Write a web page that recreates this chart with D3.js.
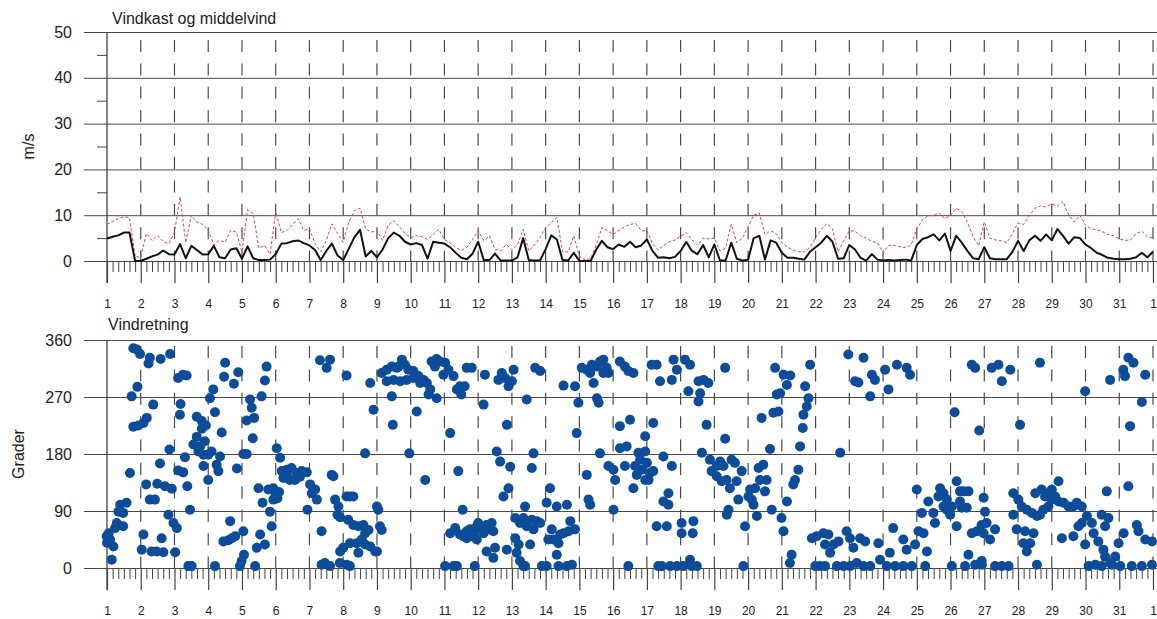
<!DOCTYPE html>
<html><head><meta charset="utf-8">
<script src="https://cdn.jsdelivr.net/npm/d3@7"></script>
<style>body{margin:0;background:#fff;} svg{display:block;font-family:"Liberation Sans",Arial,sans-serif;}</style>
</head><body><svg id="c" width="1157" height="619"></svg>
<script>
// ---------- data ----------
const dayTicks = d3.range(1, 33);                 // day 1 .. day 32 (= 1st of next month)
const dayLabels = d3.range(1, 32).concat([1]);
const speedTicks = [0, 10, 20, 30, 40, 50];
const speedMinor = [5, 15, 25, 35, 45];
const dirTicks = [0, 90, 180, 270, 360];
const stepHours = 4;                              // samples every 4 hours from day 1 00:00
const meanWind = [
4.9,5.3,5.6,6.2,6.2,0, 0,0.5,1.0,1.4,2.3,1.5, 1.4,3.7,0.6,3.3,2.4,1.4, 1.5,3.3,0.8,0.6,2.5,2.8,
0.5,3.2,0.6,0.2,0.2,0.3, 1.5,3.8,3.9,4.3,4.5,3.9, 3.4,2.4,0.2,2.2,3.8,1.2, 0.2,2.7,5.2,6.8,1.0,2.2,
0.8,2.5,5.0,6.2,5.5,4.2, 3.6,3.9,3.5,0.5,4.2,4.0, 3.8,3.0,1.8,0.7,0.4,1.6, 4.2,0.2,0.2,1.6,0.1,0.1,
0.1,0.8,5.0,0.2,0.1,0.1, 2.6,5.6,4.7,0.2,0.1,1.8, 0,0,0,2.5,4.4,3.0, 2.6,3.6,3.1,4.2,3.0,3.4,
4.7,2.2,0.7,0.8,0.6,0.9, 2.2,4.2,2.2,1.5,3.5,0.8, 3.6,0.1,0.1,4.0,0.5,0.1, 0.3,5.0,5.5,0.3,4.5,4.0,
1.8,0.7,0.7,0.5,0.3,2.0, 3.0,4.0,5.5,4.2,0.5,0.6, 3.5,2.5,0.7,0.1,1.5,0.3, 0.1,0.2,0.1,0.2,0.3,0.1,
3.5,4.8,5.2,5.8,4.5,6.0, 2.2,5.5,4.0,2.2,0.6,0.4, 3.0,0.6,0.4,0.4,0.4,2.0, 4.4,2.2,4.5,5.5,4.4,5.8,
4.5,7.0,5.5,3.8,5.2,5.0, 3.6,2.8,1.8,1.3,0.7,0.5, 0.4,0.4,0.5,0.8,1.8,0.8, 2.0];
const gustWind = [
8.0,8.6,9.3,9.6,9.5,1.0, 0.8,6.0,4.5,5.6,4.2,3.8, 6.3,14.0,4.0,10.0,8.5,8.0, 6.8,3.5,4.5,4.1,6.7,6.3,
2.0,11.2,10.3,2.8,3.4,1.5, 10.8,6.2,6.7,8.0,9.2,6.7, 7.0,3.8,2.0,4.5,8.1,6.0, 4.1,8.5,11.0,11.5,7.0,6.3,
6.7,4.5,7.8,8.8,7.5,6.0, 5.1,5.5,5.3,4.7,5.8,6.9, 4.7,4.0,3.0,2.3,3.0,4.7, 6.6,4.4,5.5,2.6,2.2,3.6,
2.4,3.5,6.9,2.2,3.5,5.1, 7.3,8.4,9.5,2.0,2.0,5.5, 1.0,0.3,0.5,3.5,7.3,6.6, 5.8,6.6,7.5,8.0,8.2,6.6,
6.6,3.8,2.4,3.4,4.2,4.6, 5.5,6.2,4.6,3.5,5.0,4.8, 5.0,2.2,2.8,8.0,4.0,5.0, 7.5,10.0,10.5,5.8,6.6,6.0,
4.0,3.0,2.4,2.0,2.0,3.0, 5.1,6.9,8.2,7.0,2.0,4.4, 6.6,6.5,5.5,5.0,4.3,4.0, 1.8,3.4,3.4,3.1,2.9,3.5,
7.0,9.0,9.9,9.9,10.5,9.2, 10.0,11.5,10.8,8.5,5.3,3.3, 8.5,5.0,4.6,4.4,4.0,6.0, 8.3,8.0,9.9,11.5,12.0,11.8,
12.5,12.0,13.0,10.0,8.5,10.0, 7.8,7.0,6.8,6.4,5.8,5.5, 4.8,4.5,4.6,6.0,6.5,5.3, 5.0];
const dirDay = [
0.99,1.0,1.05,1.09,1.19,1.14,1.24,1.29,1.34,1.39,1.48,1.48,1.58,1.68,1.73,1.78,1.78,1.88,1.9,1.93,1.98,2.03,2.08,2.08,2.16,2.18,2.23,2.27,2.27,2.32,2.37,2.42,2.47,2.49,2.57,2.59,2.62,2.67,2.72,2.82,2.85,2.87,2.92,2.97,3.02,3.07,3.11,3.11,3.18,3.16,3.25,3.26,3.31,3.36,3.38,3.41,3.46,3.51,3.56,3.66,3.66,3.71,3.76,3.81,3.81,3.86,3.86,3.9,3.93,4.0,4.0,4.05,4.1,4.15,4.2,4.2,4.25,4.3,4.35,4.4,4.45,4.47,4.5,4.6,4.65,4.7,4.76,4.8,4.85,4.89,4.94,4.99,5.04,5.04,5.06,5.14,5.14,5.24,5.29,5.32,5.36,5.39,5.44,5.49,5.54,5.58,5.61,5.68,5.68,5.73,5.78,5.83,5.88,5.93,5.93,6.0,
6.03,6.13,6.18,6.23,6.33,6.33,6.42,6.47,6.57,6.62,6.72,6.77,6.92,6.94,7.02,7.07,7.17,7.22,7.31,7.36,7.36,7.46,7.51,7.61,7.61,7.66,7.71,7.76,7.83,7.86,7.9,7.91,7.91,8.0,8.1,8.1,8.1,8.15,8.2,8.2,8.2,8.3,8.3,8.4,8.45,8.45,6.1,6.05,
8.8,8.9,8.65,9.0,9.04,8.6,8.75,8.65,9.09,9.14,8.55,8.65,8.8,8.95,9.0,
9.14,9.29,9.44,9.59,9.74,9.83,9.93,10.08,10.23,10.38,10.48,10.58,10.53,9.29,9.49,9.69,9.88,10.08,10.28,10.62,10.77,10.87,11.02,11.12,10.97,11.27,10.72,9.64,
10.77,9.44,9.47,10.18,9.96,10.43,11.17,11.41,11.46,11.6,11.37,11.5,11.66,11.81,12.2,12.16,11.54,
11.17,11.32,11.46,11.56,11.66,11.76,11.86,11.96,12.0,12.06,12.16,12.25,12.35,12.4,12.45,11.66,11.81,11.96,
12.25,12.5,12.45,11.02,11.27,11.37,11.9,
12.55,12.65,12.95,12.7,12.8,12.9,13.0,13.05,12.6,12.85,12.9,12.75,
13.1,13.24,13.34,13.44,13.59,13.74,13.84,13.64,13.39,13.1,13.2,12.85,13.54,13.14,13.24,13.34,13.39,13.44,13.69,13.84,13.64,13.59,
14.13,14.03,14.33,14.63,14.18,14.08,14.23,14.38,14.53,14.68,14.73,14.87,14.43,14.33,13.89,14.03,14.38,14.63,14.78,
14.53,14.87,14.97,14.92,15.22,15.27,15.32,
15.07,15.22,15.37,15.52,15.61,15.71,15.81,15.86,15.32,15.42,15.71,15.57,15.52,15.61,15.86,16.01,16.06,16.01,
16.2,16.35,16.45,16.6,16.2,16.5,16.95,17.19,16.2,16.4,16.35,16.65,16.75,16.95,16.8,17.0,17.09,16.85,16.7,17.05,16.95,17.19,16.6,17.49,17.74,17.64,17.49,17.64,17.14,17.29,17.39,17.74,17.79,18.13,18.28,17.89,18.23,18.53,18.68,18.82,18.58,18.53,18.77,19.32,19.32,17.29,17.59,18.03,18.38,18.03,18.36,16.45,17.34,17.44,17.69,17.89,18.08,18.28,18.33,18.48,
18.63,18.87,19.17,19.07,19.27,18.92,19.07,19.22,19.36,19.51,19.61,19.81,19.66,19.46,19.71,20.01,19.42,19.37,19.91,
20.06,20.21,20.11,20.16,20.26,20.5,20.55,20.35,20.31,20.45,20.7,20.99,21.05,21.15,20.4,20.75,20.9,20.65,20.85,20.95,20.8,21.05,21.25,21.15,21.69,21.79,21.74,21.64,21.62,21.54,21.49,21.39,21.34,21.84,21.29,21.24,19.86,
21.89,22.03,22.23,22.38,22.53,22.28,22.43,22.68,22.92,23.02,23.12,23.32,23.47,23.86,
21.99,22.13,22.28,22.63,22.83,23.02,23.22,23.42,23.62,23.91,24.11,
22.73,22.97,23.42,23.17,23.27,23.67,23.76,23.62,24.06,24.16,
24.41,24.7,24.8,26.63,26.73,27.22,27.42,27.77,27.52,28.65,29.99,26.12,26.85,28.06,30.73,31.12,31.27,31.42,31.17,31.77,31.67,31.32,30.63,31.27,
25.0,25.05,25.15,25.2,25.34,25.49,25.54,25.69,25.64,25.79,25.89,25.79,25.89,26.04,25.99,26.18,26.28,26.38,26.53,26.28,26.33,26.48,26.18,26.63,26.78,26.98,27.02,26.92,27.07,27.32,27.17,26.98,26.53,26.92,
24.3,24.6,24.7,24.95,24.2,25.3,
24.36,24.6,24.85,25.25,26.04,26.43,26.73,26.93,27.32,27.52,27.72,28.56,30.09,30.29,30.48,30.78,31.03,31.37,31.67,31.97,
27.86,28.01,28.11,28.26,28.41,28.56,27.86,27.96,28.21,28.46,28.16,28.26,28.36,28.51,28.7,28.8,28.9,29.0,29.1,29.2,29.0,28.9,28.75,28.65,29.2,29.35,29.5,29.64,29.74,29.89,29.3,29.64,29.79,29.89,30.04,29.99,30.19,30.24,30.38,30.48,30.58,30.68,30.53,30.58,30.88,30.98,31.13,31.52,31.57,31.77,31.97,30.73];
const dirDeg = [
50,40,55,45,34,13,63,71,89,100,87,66,103,150,271,347,223,345,286,225,338,29,229,53,132,237,323,332,108,26,258,108,26,133,165,330,47,25,129,84,187,338,125,71,25,63,300,154,259,242,305,151,175,304,129,3,92,3,195,207,239,184,192,232,220,179,161,200,225,179,139,268,184,282,246,3,163,153,176,214,42,302,324,44,74,47,291,50,157,309,3,11,58,180,21,233,180,266,253,205,237,3,32,126,53,271,103,296,37,318,124,89,66,126,108,115,
189,174,153,142,155,147,139,158,139,150,144,153,151,92,132,118,124,108,328,58,5,8,316,329,3,147,145,108,84,97,8,80,26,32,304,113,5,76,113,39,3,113,68,39,66,24,120,110,
292,250,181,97,92,68,60,55,66,60,45,37,34,26,26,
308,313,318,316,329,321,313,311,303,297,292,282,274,295,297,295,297,300,292,326,330,326,324,313,305,303,318,318,
268,271,226,247,181,139,213,153,287,287,282,274,316,316,305,258,92,
55,63,53,50,58,61,55,66,71,63,55,68,61,71,58,47,50,45,
26,32,16,3,3,3,3,
184,168,160,308,300,287,295,313,297,226,126,113,
79,71,79,66,76,74,71,61,97,47,37,29,37,24,11,3,3,266,316,311,181,158,
126,103,97,100,61,45,45,39,55,58,74,61,53,21,3,3,3,3,5,
288,287,261,213,147,108,100,
316,313,321,318,326,329,316,308,308,292,308,261,268,181,161,155,139,92,
326,318,311,308,224,234,208,229,189,192,161,161,182,184,171,166,150,155,147,139,139,153,126,176,161,118,105,100,321,321,295,297,329,329,321,313,279,295,297,292,276,263,226,316,204,66,66,71,74,55,55,3,3,3,3,3,3,13,3,3,
182,171,168,161,161,153,145,137,139,171,166,153,137,126,108,113,92,84,66,
124,126,108,100,82,121,139,139,158,163,92,79,58,105,237,245,247,188,274,276,316,305,304,289,287,268,255,242,221,192,155,139,132,321,21,8,3,
47,50,55,53,37,37,24,42,58,47,32,47,42,39,
3,3,3,3,3,3,8,3,3,13,3,
182,337,332,295,293,305,297,271,313,282,
321,316,305,321,316,316,321,313,295,324,279,246,217,226,297,313,332,324,303,305,262,224,121,129,
124,58,87,55,105,87,71,126,113,118,108,97,92,97,84,137,121,121,121,105,95,95,66,55,58,111,89,68,71,61,45,55,21,11,
63,45,29,37,24,26,
3,3,3,3,3,3,5,5,3,3,3,5,3,5,3,5,3,3,3,5,
118,108,97,92,87,82,84,61,58,55,39,26,39,118,124,113,118,124,113,137,108,97,92,84,105,103,97,97,103,97,47,50,66,71,82,37,71,55,42,84,66,79,29,18,18,39,55,68,58,45,42,8];

// ---------- layout ----------
const W = 1157, H = 619;
const svg = d3.select("#c");
const x = d3.scaleLinear().domain([1, 32]).range([107, 1153]);
const yTop = d3.scaleLinear().domain([0, 50]).range([261, 32]);
const yBot = d3.scaleLinear().domain([0, 360]).range([568, 340]);
const gridColor = "#4a4a4a";
const tickFont = "16px";

function panel(y, ticks, minor, title, yTitle, yTitleX) {
  const [y0, y1] = y.range();
  const g = svg.append("g");
  const ax = g.append("g").attr("transform", "translate(84,0)")
    .call(d3.axisLeft(y).tickValues(ticks).tickSize(-(W - 84)).tickPadding(12));
  ax.select(".domain").remove();
  ax.selectAll(".tick line").attr("stroke", gridColor).attr("stroke-width", 1);
  ax.selectAll(".tick text").attr("font-size", tickFont).attr("fill", "#222")
    .attr("font-family", "Liberation Sans, Arial, sans-serif");
  if (minor) {
    const am = g.append("g").attr("transform", "translate(107,0)")
      .call(d3.axisLeft(y).tickValues(minor).tickSize(10).tickFormat(""));
    am.select(".domain").remove();
    am.selectAll(".tick line").attr("stroke", "#444");
  }
  const dashLen = 12, gap = 11.4, firstGap = (y === yTop) ? 8 : 6;
  g.append("g").selectAll("line").data(dayTicks.slice(1)).join("line")
    .attr("x1", d => x(d)).attr("x2", d => x(d))
    .attr("y1", y1).attr("y2", y0)
    .attr("stroke", gridColor).attr("stroke-width", 1.2)
    .attr("stroke-dasharray", dashLen + "," + gap)
    .attr("stroke-dashoffset", dashLen + gap - firstGap);
  g.append("line").attr("x1", 107).attr("x2", 107).attr("y1", y1).attr("y2", y0 + 22)
    .attr("stroke", "#333").attr("stroke-width", 1.2);
  const minorDays = d3.range(0, 744, stepHours).filter(h => h % 24 !== 0).map(h => 1 + h / 24);
  const xm = g.append("g").attr("transform", `translate(0,${y0})`)
    .call(d3.axisBottom(x).tickValues(minorDays).tickSize(11).tickFormat(""));
  xm.select(".domain").remove();
  xm.selectAll(".tick line").attr("stroke", "#444");
  const xM = g.append("g").attr("transform", `translate(0,${y0})`)
    .call(d3.axisBottom(x).tickValues(dayTicks).tickSize(22).tickFormat(""));
  xM.select(".domain").remove();
  xM.selectAll(".tick line").attr("stroke", "#444").attr("stroke-width", 1.2);
  const xl = g.append("g").attr("transform", `translate(0,${y0})`)
    .call(d3.axisBottom(x).tickValues(dayTicks).tickSize(0).tickPadding(38)
      .tickFormat((d, i) => dayLabels[i]));
  xl.select(".domain").remove();
  xl.selectAll(".tick text").attr("font-size", "12px").attr("fill", "#222")
    .attr("font-family", "Liberation Sans, Arial, sans-serif");
  g.append("text").attr("x", title.x).attr("y", title.y).text(title.text)
    .attr("font-size", "16px").attr("fill", "#222");
  g.append("text").attr("transform", `translate(${yTitleX},${(y0 + y1) / 2}) rotate(-90)`)
    .attr("text-anchor", "middle").attr("font-size", "16px").attr("fill", "#222").text(yTitle);
  return g;
}

panel(yTop, speedTicks, speedMinor, {x: 112, y: 24, text: "Vindkast og middelvind"}, "m/s", 34);
panel(yBot, dirTicks, null, {x: 108, y: 330, text: "Vindretning"}, "Grader", 24);

const tOf = i => 1 + i * stepHours / 24;
const line = d3.line().x((d, i) => x(tOf(i))).y(d => yTop(d));
svg.append("path").datum(gustWind).attr("d", line)
  .attr("fill", "none").attr("stroke", "#e03c6c").attr("stroke-width", 1)
  .attr("stroke-dasharray", "3,2");
svg.append("path").datum(meanWind).attr("d", line)
  .attr("fill", "none").attr("stroke", "#111").attr("stroke-width", 2).attr("stroke-linejoin", "round");

svg.append("g").selectAll("circle").data(dirDay).join("circle")
  .attr("cx", d => x(d)).attr("cy", (d, i) => yBot(dirDeg[i])).attr("r", 5)
  .attr("fill", "#0c4c99");
</script></body></html>
